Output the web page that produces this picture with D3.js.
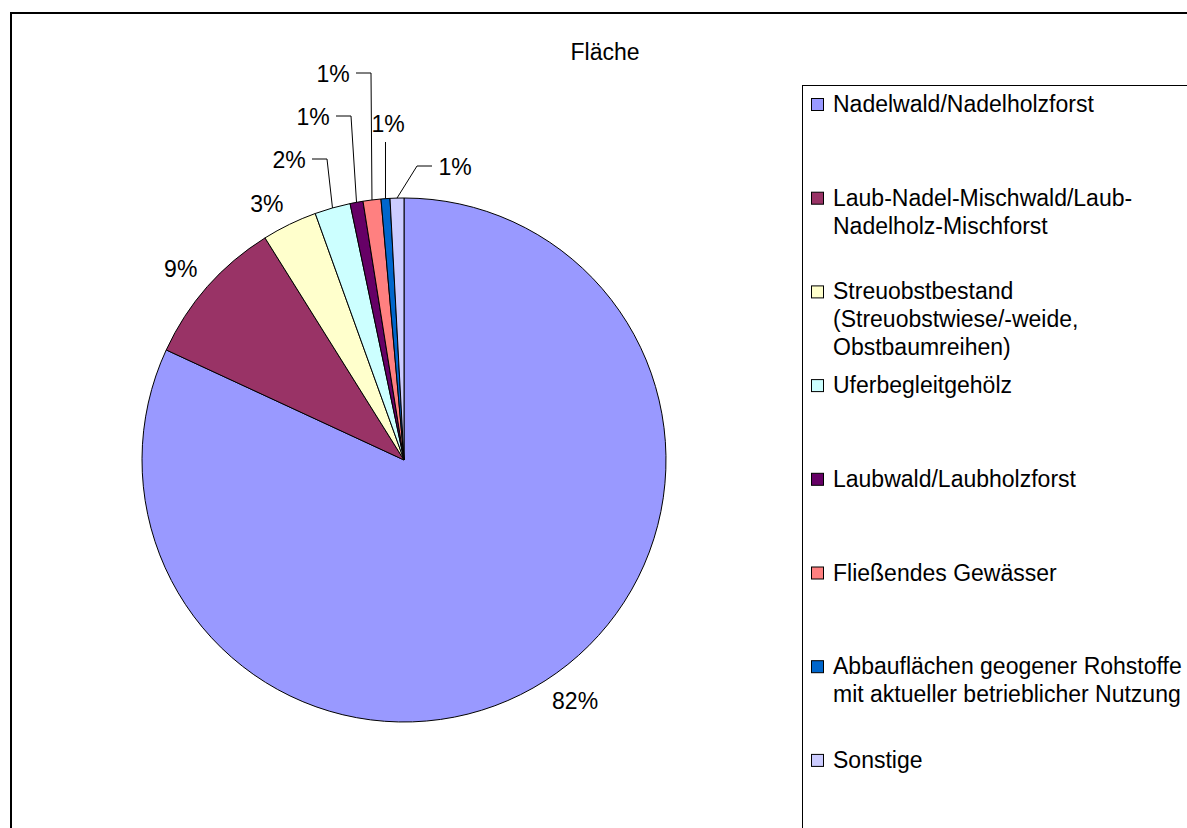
<!DOCTYPE html>
<html>
<head>
<meta charset="utf-8">
<title>Fläche</title>
<script src="https://cdn.jsdelivr.net/npm/d3@7/dist/d3.min.js"></script>
<style>
  html, body { margin: 0; padding: 0; background: #fff; overflow: hidden; }
  svg { display: block; font-family: "Liberation Sans", Arial, sans-serif; }
</style>
</head>
<body>
<div id="chart"></div>
<script>
var title = 'Fläche';

var categories = [
  'Nadelwald/Nadelholzforst',
  'Laub-Nadel-Mischwald/Laub-Nadelholz-Mischforst',
  'Streuobstbestand (Streuobstwiese/-weide, Obstbaumreihen)',
  'Uferbegleitgehölz',
  'Laubwald/Laubholzforst',
  'Fließendes Gewässer',
  'Abbauflächen geogener Rohstoffe mit aktueller betrieblicher Nutzung',
  'Sonstige'
];

// legend text as it is wrapped in the original
var legendLines = [
  ['Nadelwald/Nadelholzforst'],
  ['Laub-Nadel-Mischwald/Laub-', 'Nadelholz-Mischforst'],
  ['Streuobstbestand', '(Streuobstwiese/-weide,', 'Obstbaumreihen)'],
  ['Uferbegleitgehölz'],
  ['Laubwald/Laubholzforst'],
  ['Fließendes Gewässer'],
  ['Abbauflächen geogener Rohstoffe', 'mit aktueller betrieblicher Nutzung'],
  ['Sonstige']
];

// share of area in percent
var shares = [81.9, 9.2, 3.4, 2.2, 0.8, 1.1, 0.55, 0.85];

var colors = ['#9999FF', '#993366', '#FFFFCC', '#CCFFFF', '#660066', '#FF8080', '#0066CC', '#CCCCFF'];

var width = 1187;
var height = 828;
var cx = 404;
var cy = 460;
var radius = 262;
var fontSize = 23;

var svg = d3.select('#chart')
            .append('svg')
            .attr('width', width)
            .attr('height', height)
            ;

// chart frame (runs off the right and bottom of the picture)
svg.append('rect')
   .attr('x', 11)
   .attr('y', 13)
   .attr('width', 1200)
   .attr('height', 840)
   .attr('fill', '#fff')
   .attr('stroke', '#000')
   .attr('stroke-width', 2)
   ;

svg.append('text')
   .attr('x', 605)
   .attr('y', 52)
   .attr('text-anchor', 'middle')
   .attr('dominant-baseline', 'central')
   .style('font-size', fontSize + 'px')
   .text(title)
   ;

var data = categories.map(function(c, i) {
  return { name: c, value: shares[i], color: colors[i], index: i };
});

var pie = d3.pie()
            .sort(null)
            .value(function(d) { return d.value; })
            ;

var arcs = pie(data);

var arc = d3.arc()
            .innerRadius(0)
            .outerRadius(radius)
            ;

var edgeArc = d3.arc()
                .innerRadius(radius)
                .outerRadius(radius)
                ;

var labelArc = d3.arc()
                 .innerRadius(radius + 13)
                 .outerRadius(radius + 13)
                 ;

var pieG = svg.append('g')
              .attr('transform', 'translate(' + cx + ',' + cy + ')')
              ;

pieG.selectAll('path.slice')
    .data(arcs)
    .enter()
    .append('path')
    .attr('class', 'slice')
    .attr('d', arc)
    .attr('fill', function(d) { return d.data.color; })
    .attr('stroke', '#000')
    .attr('stroke-width', 1)
    ;

function pctText(d) {
  return Math.max(1, Math.round(d.data.value)) + '%';
}

// small slices: labels pulled out by hand, with leader lines
var leaders = {
  3: { x: -115, y: -300, side: 'right' },
  4: { x: -91, y: -343, side: 'right' },
  5: { x: -71, y: -386, side: 'right' },
  6: { x: -16, y: -336, side: 'below' },
  7: { x: 51, y: -293, side: 'left' }
};

var labelG = pieG.append('g')
                 .style('font-size', fontSize + 'px')
                 ;

arcs.forEach(function(d) {
  var i = d.data.index;
  var lead = leaders[i];
  var hw = 17 + (pctText(d).length > 2 ? 6 : 0);
  var hh = 9;
  var tx, ty;

  if (!lead) {
    var c = labelArc.centroid(d);
    tx = c[0] + hw * Math.sign(c[0]);
    ty = c[1] + hh * Math.sign(c[1]);
  } else {
    tx = lead.x;
    ty = lead.y;
    var p = edgeArc.centroid(d);
    var pts;
    if (lead.side === 'right') {
      pts = [[tx + hw + 6, ty - 1], [tx + hw + 21, ty - 1], p];
    } else if (lead.side === 'left') {
      pts = [[tx - hw - 6, ty - 1], [tx - hw - 21, ty - 1], p];
    } else {
      pts = [[p[0], ty + 18], p];
    }
    labelG.append('path')
          .attr('d', d3.line()(pts))
          .attr('fill', 'none')
          .attr('stroke', '#000')
          .attr('stroke-width', 1)
          ;
  }

  labelG.append('text')
        .attr('x', tx)
        .attr('y', ty)
        .attr('text-anchor', 'middle')
        .attr('dominant-baseline', 'central')
        .text(pctText(d))
        ;
});

// legend
var legendX = 802.5;
var legendY = 85.5;

svg.append('rect')
   .attr('x', legendX)
   .attr('y', legendY)
   .attr('width', 420)
   .attr('height', 800)
   .attr('fill', '#fff')
   .attr('stroke', '#000')
   .attr('stroke-width', 1)
   ;

var slot = d3.scalePoint()
             .domain(categories)
             .range([104, 104 + 7 * 93.7])
             ;

var items = svg.selectAll('g.legend-item')
               .data(data)
               .enter()
               .append('g')
               .attr('class', 'legend-item')
               .attr('transform', function(d) { return 'translate(0,' + slot(d.name) + ')'; })
               ;

items.append('rect')
     .attr('x', 811.5)
     .attr('y', -5.5)
     .attr('width', 12)
     .attr('height', 12)
     .attr('fill', function(d) { return d.color; })
     .attr('stroke', '#000')
     .attr('stroke-width', 1)
     ;

items.append('text')
     .attr('x', 833)
     .attr('y', 0)
     .style('font-size', fontSize + 'px')
     .attr('dominant-baseline', 'central')
     .selectAll('tspan')
     .data(function(d) { return legendLines[d.index]; })
     .enter()
     .append('tspan')
     .attr('x', 833)
     .attr('y', function(t, j) { return j * 28; })
     .text(function(t) { return t; })
     ;
</script>
</body>
</html>
